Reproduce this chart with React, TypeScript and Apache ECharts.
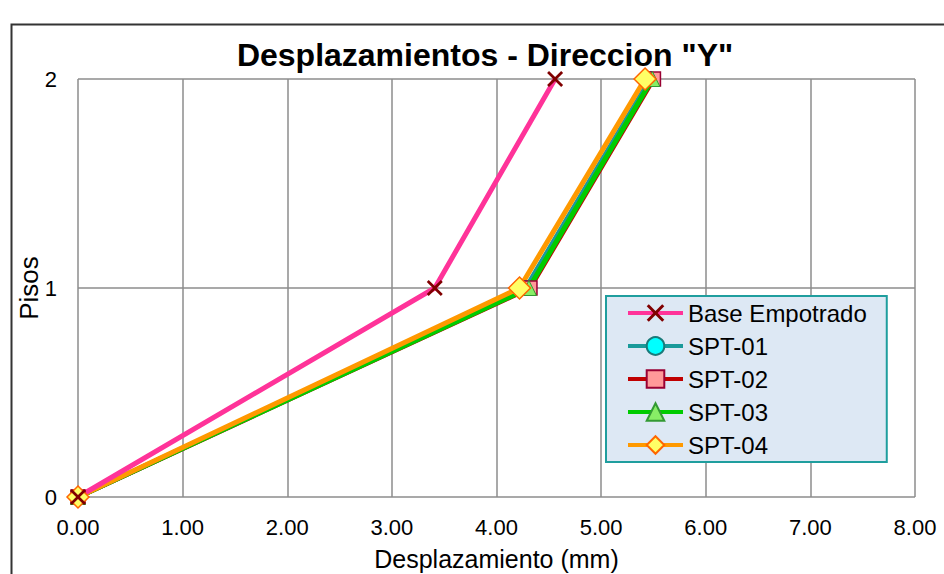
import React, { useEffect, useRef } from "react";
import * as echarts from "echarts";

const floors = [0, 1, 2];
const xTicks = ["0.00", "1.00", "2.00", "3.00", "4.00", "5.00", "6.00", "7.00", "8.00"];
const baseEmpotrado = [0, 3.41, 4.56];
const spt01 = [0, 4.28, 5.47];
const spt02 = [0, 4.32, 5.5];
const spt03 = [0, 4.31, 5.49];
const spt04 = [0, 4.22, 5.42];

const seriesNames = ["Base Empotrado", "SPT-01", "SPT-02", "SPT-03", "SPT-04"];

const X_PATH =
  "path://M0,1.2 L1.2,0 L5,3.8 L8.8,0 L10,1.2 L6.2,5 L10,8.8 L8.8,10 L5,6.2 L1.2,10 L0,8.8 L3.8,5 Z";

export default function App() {
  const ref = useRef<HTMLDivElement>(null);
  useEffect(() => {
    document.body.style.margin = "0";
    const chart = echarts.init(ref.current!, null, { renderer: "svg" });
    const toPairs = (arr: number[]) => arr.map((v, i) => [v, floors[i]]);
    const font = "Liberation Sans, Arial, sans-serif";
    const mk = (
      name: string,
      data: number[],
      lineColor: string,
      symbol: string,
      symbolSize: number,
      fill: string,
      border: string,
      borderWidth: number
    ) => ({
      name,
      type: "line",
      data: toPairs(data),
      symbol,
      symbolSize,
      lineStyle: { color: lineColor, width: 5 },
      itemStyle: { color: fill, borderColor: border, borderWidth },
    });
    chart.setOption({
      animation: false,
      backgroundColor: "#ffffff",
      title: {
        text: 'Desplazamientos - Direccion "Y"',
        left: 480,
        textAlign: "center",
        top: 34,
        textStyle: { fontFamily: font, fontWeight: "bold", fontSize: 32, color: "#000" },
      },
      grid: { left: 78, right: 29, top: 79, bottom: 77, outerBoundsMode: "none", containLabel: false },
      xAxis: {
        type: "value",
        min: 0,
        max: 8,
        interval: 1,
        name: "Desplazamiento (mm)",
        nameLocation: "middle",
        nameGap: 49,
        nameMoveOverlap: false,
        nameTextStyle: { fontFamily: font, fontSize: 25, color: "#000" },
        axisLine: { show: false },
        axisTick: { show: false },
        axisLabel: {
          fontFamily: font,
          fontSize: 22,
          color: "#000",
          margin: 19,
          formatter: (v: number) => xTicks[Math.round(v)] ?? v.toFixed(2),
        },
        splitLine: { show: true, lineStyle: { color: "#8c8c8c", width: 1.5 } },
      },
      yAxis: {
        type: "value",
        min: 0,
        max: 2,
        interval: 1,
        name: "Pisos",
        nameLocation: "middle",
        nameGap: 36,
        nameMoveOverlap: false,
        nameRotate: 90,
        nameTextStyle: { fontFamily: font, fontSize: 26, color: "#000" },
        axisLine: { show: false },
        axisTick: { show: false },
        axisLabel: { fontFamily: font, fontSize: 22, color: "#000", margin: 21 },
        splitLine: { show: true, lineStyle: { color: "#8c8c8c", width: 1.5 } },
      },
      legend: {
        orient: "vertical",
        left: 606,
        top: 296,
        data: seriesNames,
        backgroundColor: "#dde8f4",
        borderColor: "#1f9e9e",
        borderWidth: 2,
        borderRadius: 0,
        padding: [5, 20, 5, 20],
        itemGap: 9,
        itemWidth: 55,
        itemHeight: 22,
        lineStyle: { width: 4 },
        textStyle: { fontFamily: font, fontSize: 24, color: "#000" },
      },
      graphic: [
        {
          type: "rect",
          left: 9,
          top: 22,
          shape: { width: 1000, height: 700 },
          style: { fill: "none", stroke: "#333", lineWidth: 2 },
          silent: true,
          z: 100,
        },
      ],
      series: [
        mk("SPT-01", spt01, "#1a9a9a", "circle", 15, "#00ffff", "#1a7a7a", 1),
        mk("SPT-02", spt02, "#c00000", "rect", 14, "#ff9999", "#990033", 1.5),
        mk("SPT-03", spt03, "#00cc00", "triangle", 15, "#88ee66", "#339933", 1),
        mk("SPT-04", spt04, "#ff9900", "diamond", 22, "#ffff66", "#ff6600", 1.5),
        mk("Base Empotrado", baseEmpotrado, "#ff3399", X_PATH, 16, "#800000", "#800000", 0),
      ],
    });
    return () => chart.dispose();
  }, []);
  return <div ref={ref} style={{ position: "fixed", left: 0, top: 0, width: 944, height: 574 }} />;
}
